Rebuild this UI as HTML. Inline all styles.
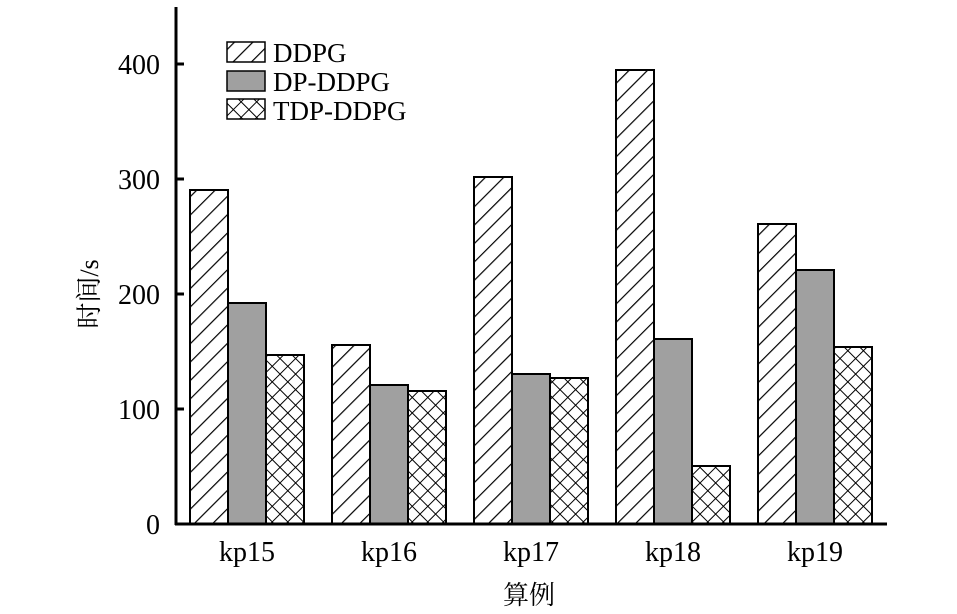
<!DOCTYPE html>
<html><head><meta charset="utf-8"><style>body{margin:0;background:#fff}svg{display:block}</style></head><body>
<svg width="957" height="614" xmlns="http://www.w3.org/2000/svg" font-family="Liberation Serif, Noto Serif CJK SC, serif">
<defs>
<pattern id="d" patternUnits="userSpaceOnUse" width="13" height="13" patternTransform="rotate(45)"><rect width="13" height="13" fill="#fff"/><line x1="0" y1="0" x2="0" y2="13" stroke="#000" stroke-width="2.4"/></pattern>
<pattern id="x" patternUnits="userSpaceOnUse" width="11" height="11" patternTransform="rotate(45)"><rect width="11" height="11" fill="#fff"/><line x1="0" y1="0" x2="0" y2="11" stroke="#000" stroke-width="2"/><line x1="0" y1="0" x2="11" y2="0" stroke="#000" stroke-width="2"/></pattern>
</defs>
<g stroke="#000" stroke-width="2">
<rect x="190" y="190" width="38" height="334" fill="url(#d)"/>
<rect x="228" y="303" width="38" height="221" fill="#a0a0a0"/>
<rect x="266" y="355" width="38" height="169" fill="url(#x)"/>
<rect x="332" y="345" width="38" height="179" fill="url(#d)"/>
<rect x="370" y="385" width="38" height="139" fill="#a0a0a0"/>
<rect x="408" y="391" width="38" height="133" fill="url(#x)"/>
<rect x="474" y="177" width="38" height="347" fill="url(#d)"/>
<rect x="512" y="374" width="38" height="150" fill="#a0a0a0"/>
<rect x="550" y="378" width="38" height="146" fill="url(#x)"/>
<rect x="616" y="70" width="38" height="454" fill="url(#d)"/>
<rect x="654" y="339" width="38" height="185" fill="#a0a0a0"/>
<rect x="692" y="466" width="38" height="58" fill="url(#x)"/>
<rect x="758" y="224" width="38" height="300" fill="url(#d)"/>
<rect x="796" y="270" width="38" height="254" fill="#a0a0a0"/>
<rect x="834" y="347" width="38" height="177" fill="url(#x)"/>
</g>
<g stroke="#000" stroke-width="3">
<line x1="176" y1="7" x2="176" y2="525"/>
<line x1="175" y1="524" x2="887" y2="524"/>
<line x1="176" y1="64" x2="184" y2="64"/>
<line x1="176" y1="179" x2="184" y2="179"/>
<line x1="176" y1="294" x2="184" y2="294"/>
<line x1="176" y1="409" x2="184" y2="409"/>
</g>
<g font-size="28" text-anchor="end">
<text x="160" y="74">400</text><text x="160" y="189">300</text><text x="160" y="304">200</text><text x="160" y="419">100</text><text x="160" y="534">0</text>
</g>
<g font-size="28" text-anchor="middle">
<text x="247" y="561">kp15</text><text x="389" y="561">kp16</text><text x="531" y="561">kp17</text><text x="673" y="561">kp18</text><text x="815" y="561">kp19</text>
<text x="529" y="604" font-size="26">算例</text>
<text transform="translate(98 294) rotate(-90)" font-size="26">时间/s</text>
</g>
<g stroke="#000" stroke-width="1.5">
<rect x="227" y="42" width="38" height="20" fill="url(#d)"/>
<rect x="227" y="71" width="38" height="20" fill="#a0a0a0"/>
<rect x="227" y="99" width="38" height="20" fill="url(#x)"/>
</g>
<g font-size="27">
<text x="273" y="62">DDPG</text><text x="273" y="91">DP-DDPG</text><text x="273" y="120">TDP-DDPG</text>
</g>
</svg>
</body></html>
